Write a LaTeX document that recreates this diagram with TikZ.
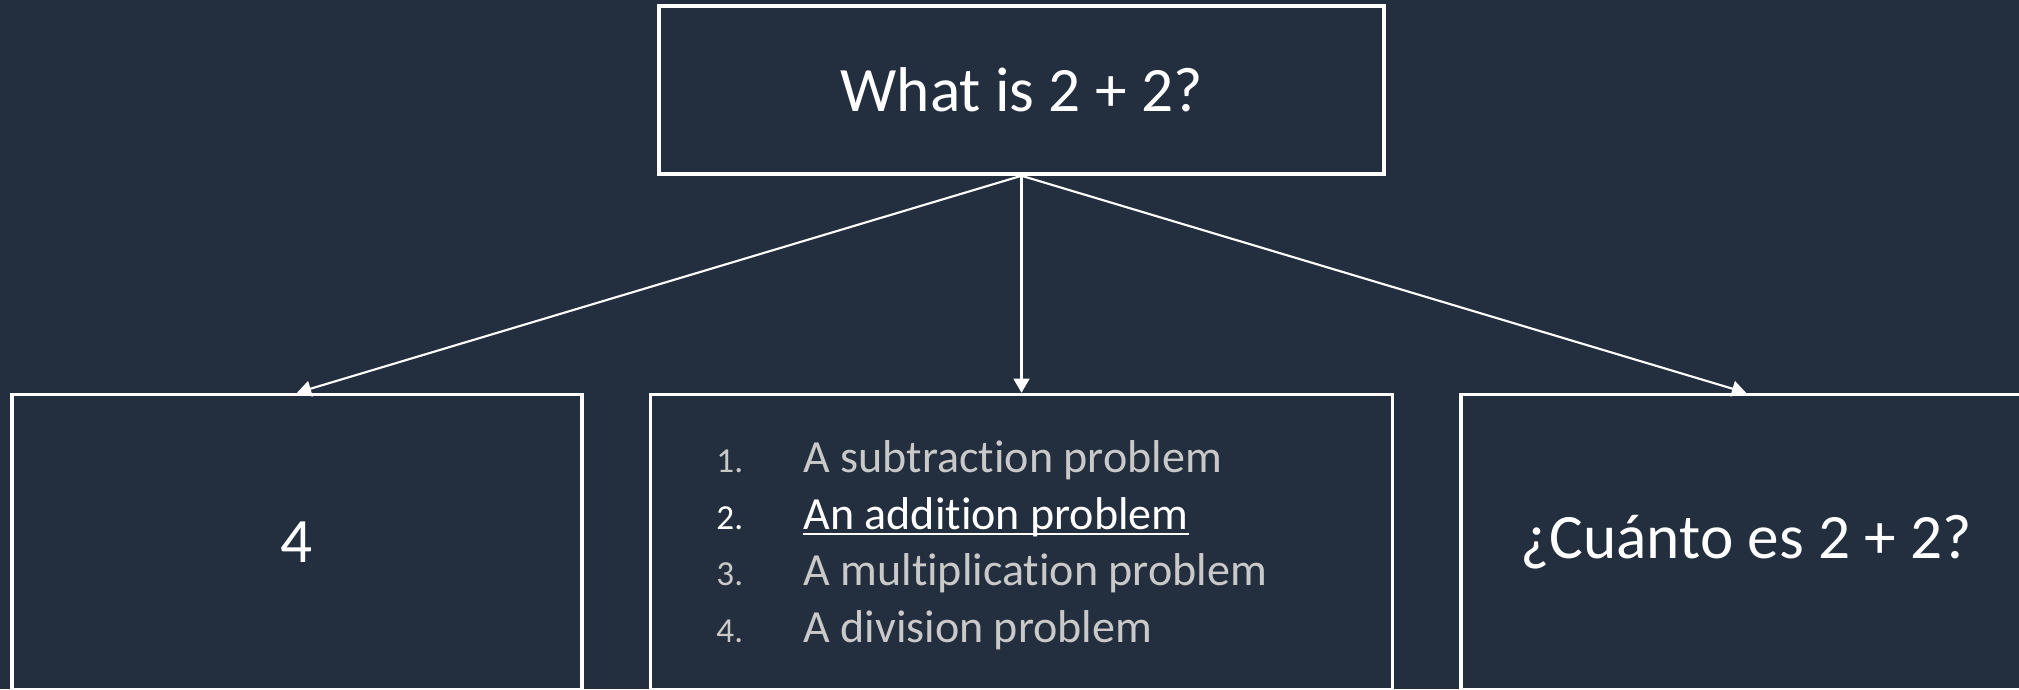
\documentclass[tikz,border=0pt]{standalone}
\usepackage{fontspec}
\setmainfont{Carlito}[Ligatures=NoCommon]
\usepackage{xcolor}
\usepackage{tikz}
\usetikzlibrary{arrows.meta,positioning}
\definecolor{InkBlue}{HTML}{232F3E}
\definecolor{SoftGray}{HTML}{C9C9C9}
% underline that sits close to the baseline
\newcommand{\pickedline}[1]{\setbox0=\hbox{#1}\rlap{\rule[-1.8pt]{\wd0}{0.6pt}}\box0}
\newcommand{\itemno}[1]{\makebox[0.87cm][l]{\fontsize{10}{12}\selectfont #1}}

\begin{document}
\begin{tikzpicture}[
    font=\fontsize{18}{22}\selectfont,
    node distance=0.65cm,
    qbox/.style={rectangle, draw=white, line width=1pt, text=white, minimum width=7.25cm, minimum height=1.68cm, align=center},
    abox/.style={rectangle, draw=white, line width=1pt, text=white, minimum width=5.7cm, minimum height=2.95cm, align=center},
    choicelist/.style={align=left, text=SoftGray, inner sep=0pt, font=\fontsize{13.1}{16.1}\selectfont},
    arrow/.style={-{Triangle[length=4pt, width=4.5pt]}, line width=0.6pt, draw=white}
]

% background
\useasboundingbox (0,0) rectangle (20.19,6.89);
\clip (0,0) rectangle (20.19,6.89);
\fill[InkBlue] (0,0) rectangle (20.19,6.89);

% question on top, three readings below
\node[qbox] (question) at (10.215,5.99) {What is 2 + 2?};
\node[abox, minimum width=7.42cm, below=2.17cm of question] (kind) {};
\node[abox, left=of kind] (answer) {4};
\node[abox, right=of kind] (spanish) {¿Cuánto es 2 + 2?};

% numbered choices in the middle box
\node[choicelist, anchor=west] (choices) at ([xshift=0.67cm, yshift=-0.03cm]kind.west) {%
    \itemno{1.}A subtraction problem\\
    \textcolor{white}{\itemno{2.}\pickedline{An addition problem}}\\
    \itemno{3.}A multiplication problem\\
    \itemno{4.}A division problem};

\draw[arrow] (question.south) -- (answer.north);
\draw[arrow] (question.south) -- (kind.north);
\draw[arrow] (question.south) -- (spanish.north);

\end{tikzpicture}
\end{document}
